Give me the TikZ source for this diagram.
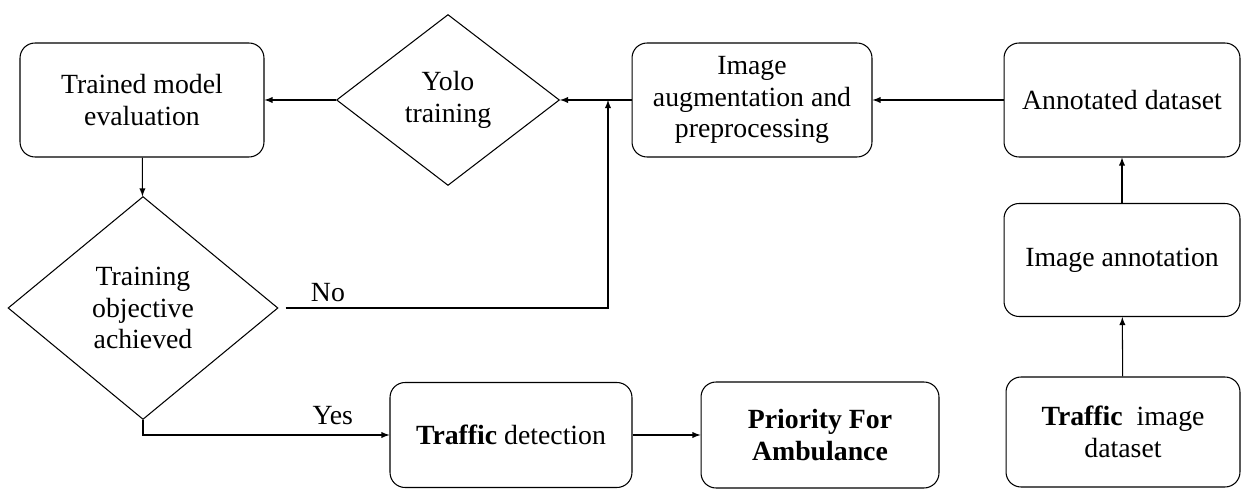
\documentclass[tikz,border=0pt]{standalone}
\usepackage{fontspec}
\setmainfont{Liberation Serif}
\usetikzlibrary{arrows}
\usetikzlibrary{shapes.geometric}
\tikzset{
	roundbox/.style={draw, rounded corners=0.3cm, align=center, inner sep=2pt},
	decision/.style={draw, diamond, align=center, inner sep=0pt},
	link/.style={-latex}
}

\begin{document}
\begin{tikzpicture}[x=0.02cm, y=-0.02cm, line width=0.6pt, font=\fontsize{15.8}{18}\selectfont]
		\useasboundingbox (0,0) rectangle (1252,489);
		\coordinate (P_tme) at (142,100);
		\coordinate (P_yolo) at (448,100);
		\coordinate (P_aug) at (752,100);
		\coordinate (P_annot) at (1122,100);
		\coordinate (P_imgann) at (1122,260);
		\coordinate (P_tid) at (1123,432);
		\coordinate (P_dec) at (143,308);
		\coordinate (P_td) at (511,435);
		\coordinate (P_prio) at (820,435);

		\node[roundbox, minimum width=4.88cm, minimum height=2.28cm] (tme) at (P_tme) {Trained model\\evaluation};
		\node[decision, minimum width=4.46cm, minimum height=3.42cm] (yolo) at (P_yolo) {Yolo\\training};
		\node[roundbox, minimum width=4.8cm, minimum height=2.28cm] (aug) at (P_aug) {Image\\augmentation and\\preprocessing};
		\node[roundbox, minimum width=4.72cm, minimum height=2.28cm] (annot) at (P_annot) {Annotated dataset};
		\node[roundbox, minimum width=4.72cm, minimum height=2.26cm] (imgann) at (P_imgann) {Image annotation};
		\node[roundbox, minimum width=4.68cm, minimum height=2.2cm] (tid) at (P_tid) {\textbf{Traffic}\ \ image\\dataset};
		\node[decision, minimum width=5.4cm, minimum height=4.46cm] (dec) at (P_dec) {Training\\objective\\achieved};
		\node[roundbox, minimum width=4.84cm, minimum height=2.1cm] (td) at (P_td) {\textbf{Traffic} detection};
		\node[roundbox, minimum width=4.76cm, minimum height=2.12cm] (prio) at (P_prio) {\textbf{Priority For}\\\textbf{Ambulance}};
		\coordinate (join) at (608,100);

		\draw[link] (aug) -- (yolo);
		\draw[link] (yolo) -- (tme);
		\draw[link] (tme) -- (dec);
		\draw[link, shorten <=4pt] (dec.east) -| (join) node[pos=0.075, above] (no) {No};
		\draw[link] (dec.south) |- (td.west) node[pos=0.885, above=2pt] (yes) {Yes};
		\draw[link] (td) -- (prio);
		\draw[link] (tid) -- (imgann);
		\draw[link] (imgann) -- (annot);
		\draw[link] (annot) -- (aug);

	\end{tikzpicture}
\end{document}
